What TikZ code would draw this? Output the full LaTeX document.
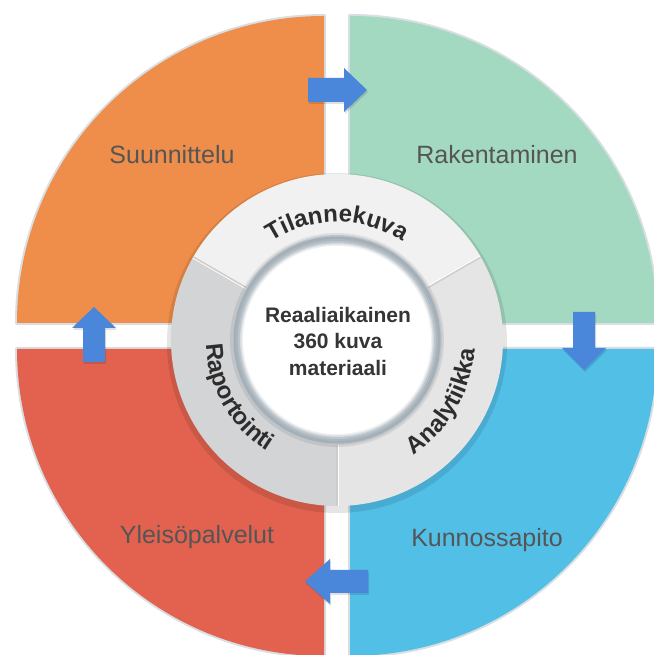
\documentclass[tikz,border=0pt]{standalone}
\usepackage{fontspec}
\setmainfont{Liberation Sans}
\usetikzlibrary{decorations.text}

\definecolor{orangeq}{HTML}{EE8E4A}
\definecolor{greenq}{HTML}{A3D9C1}
\definecolor{redq}{HTML}{E2624F}
\definecolor{blueq}{HTML}{52BFE7}
\definecolor{arrowblue}{HTML}{4A86D9}
\definecolor{labelgray}{HTML}{555555}
\definecolor{ringtop}{HTML}{F1F1F1}
\definecolor{ringleft}{HTML}{D3D4D6}
\definecolor{ringright}{HTML}{E5E5E6}
\definecolor{ringtext}{HTML}{2D2D2D}
\definecolor{rimgray}{HTML}{BCC5CB}
\definecolor{rimdark}{HTML}{A4AFB7}
\definecolor{haze}{HTML}{C9D0D6}

\newcommand\ringfont{\bfseries\fontsize{24}{24}\selectfont}

\tikzset{
  quadhalo/.style={draw=haze, line width=4pt, line join=round, opacity=0.7},
  quadlabel/.style={text=labelgray, font=\fontsize{25}{25}\selectfont, inner sep=0pt},
  hubtext/.style={text=ringtext!90!gray, align=center, inner sep=0pt,
    font=\bfseries\fontsize{21}{26.5}\selectfont},
  divider/.style={draw=black!20, line width=1.6pt},
  dividerlight/.style={draw=white, line width=0.8pt},
  arrowfill/.style={fill=arrowblue},
  arrowshade/.style={fill=black, opacity=0.12},
  ringlabel/.style={decorate, decoration={text along path, text align=center,
    text color=ringtext, text={|\ringfont|#1}}}
}

\begin{document}
\begin{tikzpicture}[x=1pt,y=1pt]
\useasboundingbox (0,0) rectangle (653,655);
\fill[white] (0,0) rectangle (653,655);

% four quadrants of the outer disc
\path[quadhalo] (324,332) -- (324,639) arc[start angle=90,end angle=180,radius=307] -- cycle;
\path[quadhalo] (350,332) -- (657,332) arc[start angle=0,end angle=90,radius=307] -- cycle;
\path[quadhalo] (324,306) -- (17,306) arc[start angle=180,end angle=270,radius=307] -- cycle;
\path[quadhalo] (350,306) -- (350,-1) arc[start angle=270,end angle=360,radius=307] -- cycle;
\fill[orangeq] (324,332) -- (324,639) arc[start angle=90,end angle=180,radius=307] -- cycle;
\fill[greenq] (350,332) -- (657,332) arc[start angle=0,end angle=90,radius=307] -- cycle;
\fill[redq] (324,306) -- (17,306) arc[start angle=180,end angle=270,radius=307] -- cycle;
\fill[blueq] (350,306) -- (350,-1) arc[start angle=270,end angle=360,radius=307] -- cycle;

% quadrant labels
\node[quadlabel] (suunnittelu) at (172,500) {Suunnittelu};
\node[quadlabel] (rakentaminen) at (497,500) {Rakentaminen};
\node[quadlabel] (yleiso) at (197,118) {Yleisöpalvelut};
\node[quadlabel] (kunnossapito) at (487,115) {Kunnossapito};

% flow arrows between the quadrants
\fill[arrowshade] (309,551) -- (345,551) -- (345,541) -- (368,563) -- (345,585) -- (345,575) -- (309,575) -- cycle;
\fill[arrowfill] (308,553) -- (344,553) -- (344,543) -- (367,565) -- (344,587) -- (344,577) -- (308,577) -- cycle;
\fill[arrowshade] (574,341) -- (574,305) -- (563,305) -- (585,283) -- (607,305) -- (596,305) -- (596,341) -- cycle;
\fill[arrowfill] (573,343) -- (573,307) -- (562,307) -- (584,285) -- (606,307) -- (595,307) -- (595,343) -- cycle;
\fill[arrowshade] (369,60) -- (331,60) -- (331,49) -- (306,71.5) -- (331,94) -- (331,83) -- (369,83) -- cycle;
\fill[arrowfill] (368,62) -- (330,62) -- (330,51) -- (305,73.5) -- (330,96) -- (330,85) -- (368,85) -- cycle;
\fill[arrowshade] (84,291) -- (84,325) -- (73,325) -- (95,346) -- (117,325) -- (106,325) -- (106,291) -- cycle;
\fill[arrowfill] (83,293) -- (83,327) -- (72,327) -- (94,348) -- (116,327) -- (105,327) -- (105,293) -- cycle;

% grey ring of three segments
\coordinate (C) at (337,315);
\fill[black, opacity=0.10] (337,312) circle (170);
\fill[ringtop] (C) -- ([shift=(30:166)]C) arc[start angle=30,end angle=150,radius=166] -- cycle;
\fill[ringleft] (C) -- ([shift=(150:166)]C) arc[start angle=150,end angle=270,radius=166] -- cycle;
\fill[ringright] (C) -- ([shift=(270:166)]C) arc[start angle=270,end angle=390,radius=166] -- cycle;
\foreach \a in {30,150,270}{
  \draw[divider] ([shift=(\a:100)]C) -- ([shift=(\a:166)]C);
  \draw[dividerlight] ([shift={(\a:100)}]C) ++(\a+90:1.2) -- ++(\a:66);
}

% ring captions
\path[ringlabel=Tilannekuva] ([shift=(150:118)]C) arc[start angle=150,end angle=30,radius=118];
\path[ringlabel=Raportointi] ([shift=(150:131)]C) arc[start angle=150,end angle=270,radius=131];
\path[ringlabel=Analytiikka] ([shift=(270:138)]C) arc[start angle=270,end angle=390,radius=138];

% white hub with a graded grey rim
\fill[black, opacity=0.08] (C) circle (107);
\fill[rimgray] (C) circle (105);
\fill[rimdark] (C) circle (103.5);
\fill[rimdark!70!rimgray] (C) circle (101);
\fill[rimgray] (C) circle (99);
\fill[rimgray!60!white] (C) circle (97);
\fill[rimgray!25!white] (C) circle (95.5);
\fill[white] (C) circle (94);
\node[hubtext] (hub) at (338,314) {Reaaliaikainen\\360 kuva\\materiaali};
\end{tikzpicture}
\end{document}
